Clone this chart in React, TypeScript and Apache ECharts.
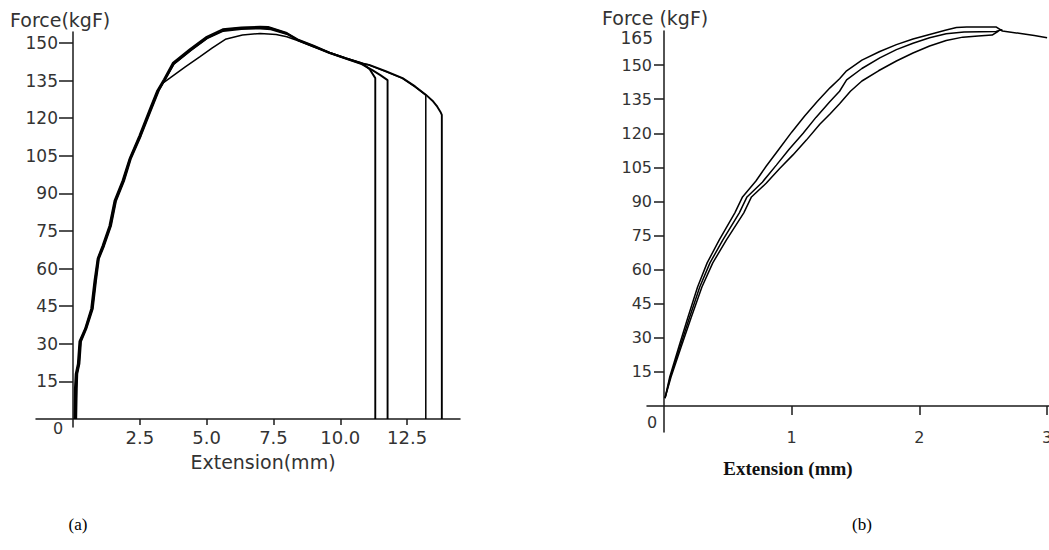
import React, { useEffect, useRef } from "react";
import * as echarts from "echarts";

// ---------- Panel (a) ----------
const xTicksA = [2.5, 5, 7.5, 10, 12.5];
const yTicksA = [15, 30, 45, 60, 75, 90, 105, 120, 135, 150];

const specimenA1: number[][] = [
  [0.05, 0], [0.07, 12], [0.1, 18], [0.18, 22], [0.24, 31], [0.45, 36], [0.68, 44], [0.8, 55],
  [0.92, 64], [1.1, 69], [1.36, 77], [1.55, 87], [1.85, 95], [2.12, 104], [2.48, 113], [2.85, 123],
  [3.15, 131], [3.4, 135.5], [3.73, 142], [4.37, 147.5], [5.0, 152.5], [5.6, 155.5], [6.3, 156.2],
  [7.0, 156.5], [7.3, 156.4], [8.0, 154], [8.4, 151.5], [9.0, 149], [9.6, 146.2], [10.2, 144],
  [10.8, 142], [11.1, 139.5], [11.31, 136], [11.31, 0],
];
const specimenA2: number[][] = [
  [0.1, 0], [0.12, 12], [0.14, 18], [0.22, 22], [0.28, 31], [0.48, 36], [0.72, 44], [0.84, 55],
  [0.95, 64], [1.14, 69], [1.4, 77], [1.59, 87], [1.89, 95], [2.15, 104], [2.52, 113], [2.89, 123],
  [3.19, 131], [3.45, 135.5], [3.76, 141.5], [4.4, 147], [5.03, 152], [5.62, 154.8], [6.3, 155.6],
  [7.0, 155.8], [7.4, 155.5], [8.0, 153.6], [8.4, 151.2], [9.0, 148.6], [9.6, 146], [10.2, 143.8],
  [10.8, 141.6], [11.2, 139.2], [11.5, 137.2], [11.77, 135.2], [11.77, 0],
];
const specimenA3: number[][] = [
  [0.08, 0], [0.1, 12], [0.12, 18], [0.2, 22], [0.26, 31], [0.46, 36], [0.7, 44], [0.82, 55],
  [0.93, 64], [1.12, 69], [1.38, 77], [1.57, 87], [1.87, 95], [2.13, 104], [2.5, 113], [2.87, 123],
  [3.17, 131], [3.36, 134], [3.62, 136], [4.2, 140.5], [4.74, 144.5], [5.2, 148], [5.7, 151.5],
  [6.34, 153.2], [7.0, 153.8], [7.6, 153.4], [8.0, 152.5], [8.4, 151], [9.0, 148.5], [9.6, 146.2],
  [10.2, 144], [10.8, 142], [11.08, 141.2], [11.7, 138.6], [12.33, 135.9], [12.8, 132.5],
  [13.2, 129.2], [13.2, 0],
];
const specimenA4: number[][] = [
  [0.12, 0], [0.14, 12], [0.16, 18], [0.24, 22], [0.3, 31], [0.5, 36], [0.74, 44], [0.86, 55],
  [0.97, 64], [1.16, 69], [1.42, 77], [1.61, 87], [1.91, 95], [2.17, 104], [2.54, 113], [2.91, 123],
  [3.21, 131], [3.47, 136], [3.78, 141.8], [4.42, 147.3], [5.05, 152.2], [5.65, 155.2], [6.3, 156],
  [7.0, 156.2], [7.35, 156], [8.0, 153.8], [8.4, 151.3], [9.0, 148.8], [9.6, 146.1], [10.2, 143.9],
  [10.8, 141.8], [11.08, 141.3], [11.7, 138.8], [12.33, 136], [12.8, 132.7], [13.2, 129.4],
  [13.45, 127], [13.63, 124.6], [13.75, 122.5], [13.8, 121.3], [13.8, 0],
];

// ---------- Panel (b) ----------
const xTicksB = [1, 2, 3];
const yTicksB = [15, 30, 45, 60, 75, 90, 105, 120, 135, 150];

const specimenB1: number[][] = [
  [0.008, 3.5], [0.045, 12.8], [0.116, 26], [0.187, 39], [0.263, 52.4], [0.338, 63], [0.432, 73],
  [0.555, 85], [0.615, 92], [0.72, 99], [0.8, 105.5], [0.9, 113], [1.0, 120.5], [1.1, 127.5],
  [1.2, 134], [1.3, 140], [1.375, 144], [1.43, 147.5], [1.55, 152.2], [1.69, 156], [1.82, 159],
  [1.95, 161.5], [2.08, 163.5], [2.21, 165.4], [2.29, 166.5], [2.37, 166.8], [2.6, 166.8],
  [2.65, 165], [2.78, 164], [2.9, 163], [3.0, 162],
];
const specimenB2: number[][] = [
  [0.008, 3.5], [0.05, 12.8], [0.125, 26], [0.2, 39], [0.28, 52.4], [0.36, 63], [0.46, 73],
  [0.59, 85], [0.65, 92], [0.77, 98.5], [0.88, 106], [0.98, 113], [1.09, 120], [1.19, 127],
  [1.3, 134], [1.375, 138.5], [1.43, 143.5], [1.55, 148.5], [1.69, 153.2], [1.82, 156.8],
  [1.95, 159.6], [2.08, 162], [2.21, 163.8], [2.35, 164.6], [2.6, 164.8], [2.65, 165.6],
];
const specimenB3: number[][] = [
  [0.008, 3.5], [0.055, 12.8], [0.134, 26], [0.213, 39], [0.297, 52.4], [0.382, 63], [0.488, 73],
  [0.625, 85], [0.685, 92], [0.8, 98], [0.906, 104.5], [1.01, 110.5], [1.115, 117], [1.22, 124],
  [1.3, 128.5], [1.375, 133], [1.46, 138.5], [1.55, 143], [1.68, 147.5], [1.82, 151.8],
  [1.95, 155.3], [2.08, 158.4], [2.21, 160.8], [2.34, 162.3], [2.46, 162.8], [2.57, 163.2],
  [2.62, 165],
];

const AXIS_COLOR = "#1a1a1a";
const LABEL_COLOR = "#333";
const SANS = "DejaVu Sans";

function line(data: number[][], idx: number, width: number) {
  return {
    type: "line",
    data,
    xAxisIndex: idx,
    yAxisIndex: idx,
    showSymbol: false,
    symbol: "none",
    clip: false,
    lineStyle: { color: "#000", width },
    silent: true,
  };
}

export default function App() {
  const ref = useRef<HTMLDivElement>(null);
  useEffect(() => {
    if (!ref.current) return;
    const chart = echarts.init(ref.current, null, { renderer: "svg" });
    const fmtA = (v: number) => v.toFixed(1);
    const option: any = {
      animation: false,
      backgroundColor: "#fff",
      grid: [
        { left: 36, top: 32, width: 424, height: 395, outerBoundsMode: "none", containLabel: false },
        { left: 647, top: 31, width: 402, height: 401, outerBoundsMode: "none", containLabel: false },
      ],
      xAxis: [
        {
          type: "value", gridIndex: 0, min: -1.385, max: 14.48,
          splitLine: { show: false },
          axisLine: { onZero: true, lineStyle: { color: AXIS_COLOR, width: 1.5 } },
          axisTick: { customValues: xTicksA, length: 6, lineStyle: { color: AXIS_COLOR, width: 1.5 } },
          axisLabel: { customValues: xTicksA, formatter: fmtA, margin: 1, fontSize: 18, fontFamily: SANS, color: LABEL_COLOR },
        },
        {
          type: "value", gridIndex: 1, min: -0.133, max: 3.015,
          splitLine: { show: false },
          axisLine: { onZero: true, lineStyle: { color: AXIS_COLOR, width: 1.5 } },
          axisTick: { customValues: xTicksB, length: 9, lineStyle: { color: AXIS_COLOR, width: 1.5 } },
          axisLabel: { customValues: xTicksB, margin: -3, fontSize: 16, fontFamily: SANS, color: LABEL_COLOR },
        },
      ],
      yAxis: [
        {
          type: "value", gridIndex: 0, min: -3.2, max: 154.4,
          splitLine: { show: false },
          axisLine: { onZero: true, lineStyle: { color: AXIS_COLOR, width: 1.5 } },
          axisTick: { customValues: yTicksA, length: 14, lineStyle: { color: AXIS_COLOR, width: 1.5 } },
          axisLabel: { customValues: yTicksA, margin: -22, fontSize: 17, fontFamily: SANS, color: LABEL_COLOR },
        },
        {
          type: "value", gridIndex: 1, min: -11.4, max: 165,
          splitLine: { show: false },
          axisLine: { onZero: true, lineStyle: { color: AXIS_COLOR, width: 1.5 } },
          axisTick: { customValues: yTicksB, length: 10, lineStyle: { color: AXIS_COLOR, width: 1.5 } },
          axisLabel: { customValues: yTicksB, margin: -5, fontSize: 16, fontFamily: SANS, color: LABEL_COLOR },
        },
      ],
      series: [
        line(specimenA1, 0, 1.9), line(specimenA2, 0, 1.9), line(specimenA3, 0, 1.5), line(specimenA4, 0, 1.9),
        line(specimenB1, 1, 1.5), line(specimenB2, 1, 1.5), line(specimenB3, 1, 1.5),
      ],
      graphic: [
        { type: "text", left: 10, top: 10, style: { text: "Force(kgF)", fontSize: 19, fontFamily: SANS, fill: LABEL_COLOR } },
        { type: "text", x: 58, y: 428, style: { text: "0", fontSize: 16, fontFamily: SANS, fill: LABEL_COLOR, align: "center", verticalAlign: "middle" } },
        { type: "text", x: 263, y: 462, style: { text: "Extension(mm)", fontSize: 19, fontFamily: SANS, fill: LABEL_COLOR, align: "center", verticalAlign: "middle" } },
        { type: "text", left: 602, top: 8, style: { text: "Force (kgF)", fontSize: 19, fontFamily: SANS, fill: LABEL_COLOR } },
        { type: "text", x: 653, y: 38, style: { text: "165", fontSize: 17, fontFamily: SANS, fill: LABEL_COLOR, align: "right", verticalAlign: "middle" } },
        { type: "text", x: 652, y: 422, style: { text: "0", fontSize: 16, fontFamily: SANS, fill: LABEL_COLOR, align: "center", verticalAlign: "middle" } },
        { type: "text", x: 788, y: 468, style: { text: "Extension (mm)", fontSize: 19, fontWeight: "bold", fontFamily: "Liberation Serif", fill: "#111", align: "center", verticalAlign: "middle" } },
        { type: "text", x: 78, y: 524, style: { text: "(a)", fontSize: 17, fontFamily: "Liberation Serif", fill: "#000", align: "center", verticalAlign: "middle" } },
        { type: "text", x: 862, y: 524, style: { text: "(b)", fontSize: 17, fontFamily: "Liberation Serif", fill: "#000", align: "center", verticalAlign: "middle" } },
      ],
    };
    chart.setOption(option);
    return () => chart.dispose();
  }, []);
  return (
    <div
      ref={ref}
      style={{ position: "absolute", left: 0, top: 0, width: 1049, height: 550, background: "#fff" }}
    />
  );
}
